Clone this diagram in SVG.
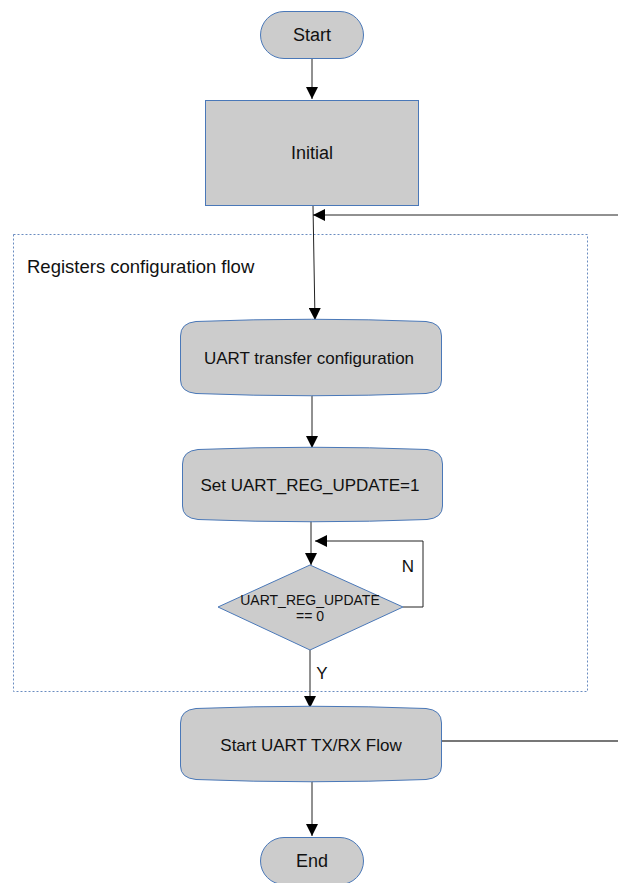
<svg xmlns="http://www.w3.org/2000/svg" width="618" height="883" viewBox="0 0 618 883">
<defs>
<style>
.n{fill:#cccccc;stroke:#4a78b8;stroke-width:1}
.t{font-family:"Liberation Sans",Arial,sans-serif;font-size:17px;fill:#111;text-anchor:middle}
.b{font-family:"Liberation Sans",Arial,sans-serif;font-size:18px;fill:#111;text-anchor:middle}
.s{font-family:"Liberation Sans",Arial,sans-serif;font-size:14px;fill:#111;text-anchor:middle}
.l{fill:none;stroke:#222;stroke-width:1}
.g{fill:none;stroke:#777;stroke-width:2}
</style>
<marker id="a" markerWidth="12" markerHeight="12" viewBox="0 0 12 12" refX="12" refY="6" orient="auto" markerUnits="userSpaceOnUse">
<path d="M0,0 L12,6 L0,12 Z" fill="#000"/>
</marker>
</defs>
<rect width="618" height="883" fill="#fff"/>
<g id="group">
<rect x="13.5" y="234.5" width="574" height="457" fill="none" stroke="#6a8cc0" stroke-width="1" stroke-dasharray="2,2"/>
<text x="27" y="273" font-family="Liberation Sans,Arial,sans-serif" font-size="18.5" fill="#111">Registers configuration flow</text>
</g>
<g id="connectors">
<line class="l" x1="312" y1="58" x2="312" y2="99" marker-end="url(#a)"/>
<line class="l" x1="313" y1="206" x2="315" y2="320" marker-end="url(#a)"/>
<line class="l" x1="618" y1="215" x2="313" y2="215" marker-end="url(#a)"/>
<line class="l" x1="312" y1="394" x2="312" y2="448" marker-end="url(#a)"/>
<line class="l" x1="311" y1="520" x2="311" y2="565" marker-end="url(#a)"/>
<polyline class="l" points="403,607 423,607 423,541 315,541" marker-end="url(#a)"/>
<text x="408" y="572" class="t">N</text>
<line class="l" x1="310" y1="650" x2="310" y2="708" marker-end="url(#a)"/>
<text x="322" y="679" class="t">Y</text>
<line class="g" x1="442" y1="741" x2="618" y2="741"/>
<line class="l" x1="312" y1="780" x2="312" y2="836" marker-end="url(#a)"/>
</g>
<g id="start">
<rect class="n" x="260.5" y="11.5" width="103" height="47" rx="23.5" ry="23.5"/>
<text x="312" y="41" class="b">Start</text>
</g>
<g id="initial">
<rect class="n" x="205.5" y="100.5" width="213" height="105"/>
<text x="312" y="159" class="b">Initial</text>
</g>
<g id="uart-config">
<path class="n" d="M196,321.5 Q312,317 426,321.5 Q441.5,323 441.5,336 L441.5,380 Q441.5,392 426,393.5 Q312,398 196,393.5 Q180.5,392 180.5,380 L180.5,336 Q180.5,323 196,321.5 Z"/>
<text x="309" y="364" class="t">UART transfer configuration</text>
</g>
<g id="set-update">
<path class="n" d="M198,449.5 Q312,445 427,449.5 Q442.5,451 442.5,464 L442.5,506 Q442.5,518 427,519.5 Q312,524 198,519.5 Q182.5,518 182.5,506 L182.5,464 Q182.5,451 198,449.5 Z"/>
<text x="310" y="491" class="t">Set UART_REG_UPDATE=1</text>
</g>
<g id="check-update">
<polygon class="n" points="310,565 403,607 310,650 218,607"/>
<text x="310" y="605" class="s">UART_REG_UPDATE</text>
<text x="310" y="621" class="s">== 0</text>
</g>
<g id="txrx">
<path class="n" d="M196,708.5 Q312,704 426,708.5 Q441.5,710 441.5,723 L441.5,766 Q441.5,778 426,779.5 Q312,784 196,779.5 Q180.5,778 180.5,766 L180.5,723 Q180.5,710 196,708.5 Z"/>
<text x="311" y="751" class="t">Start UART TX/RX Flow</text>
</g>
<g id="end">
<rect class="n" x="260.5" y="837.5" width="103" height="47" rx="23.5" ry="23.5"/>
<text x="312" y="867" class="b">End</text>
</g>
</svg>
